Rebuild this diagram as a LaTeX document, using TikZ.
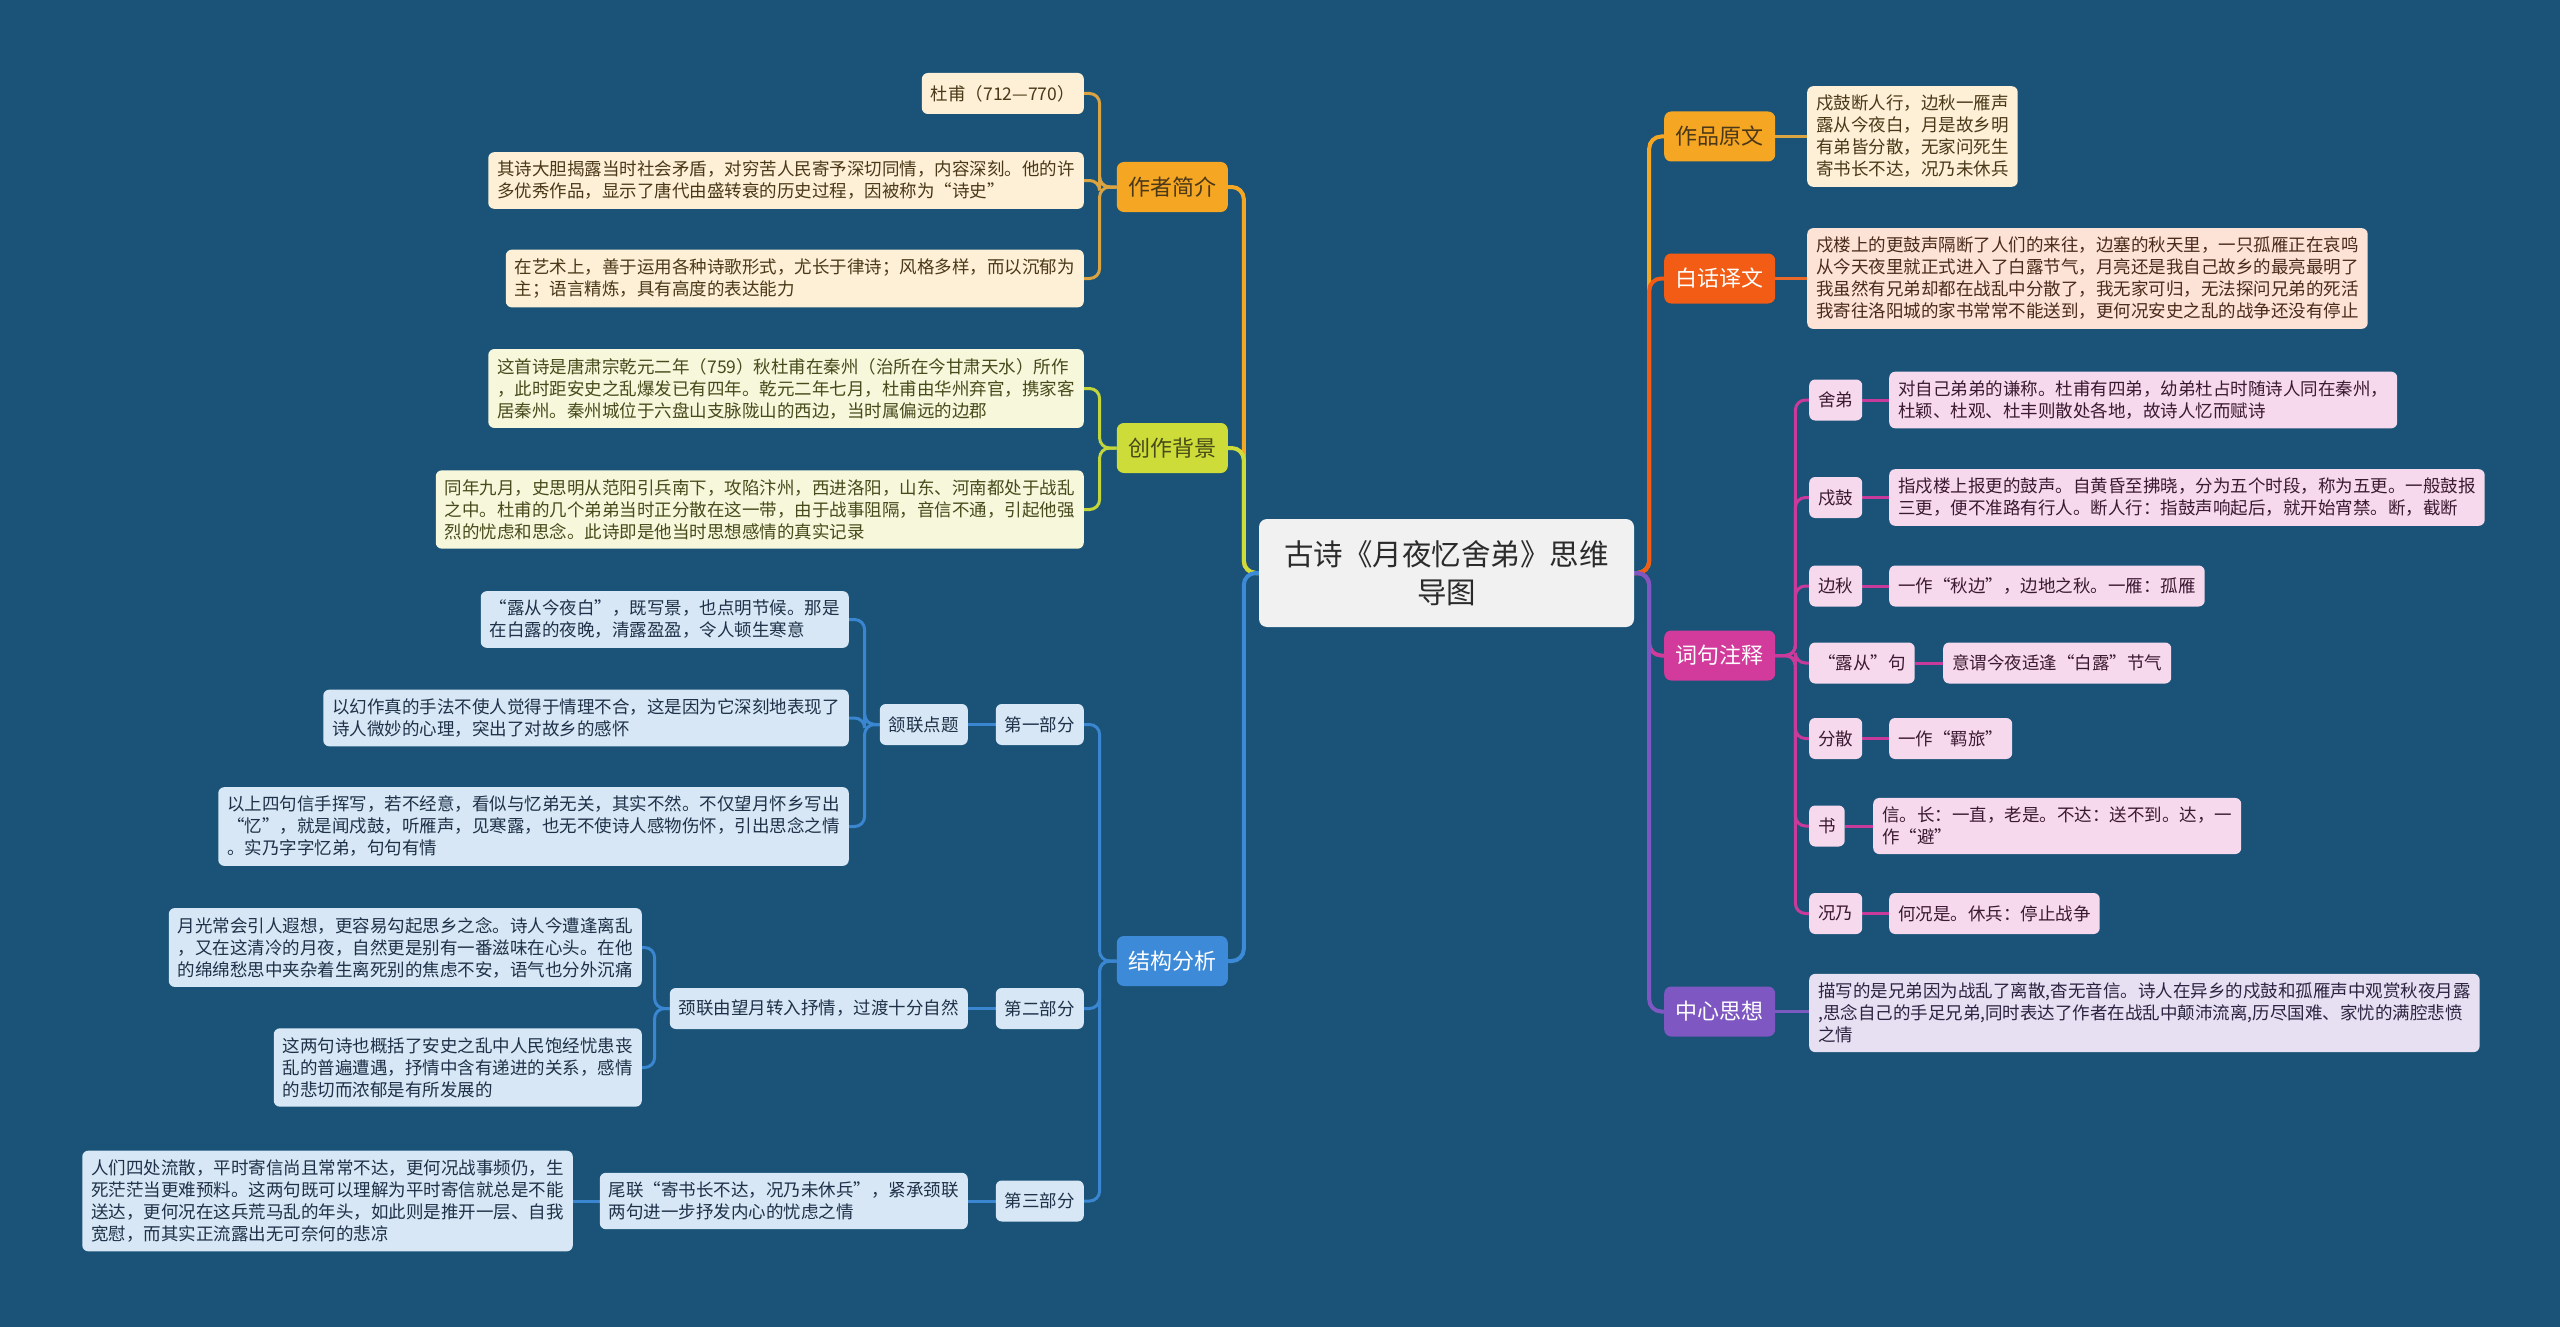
\documentclass[tikz,border=0pt]{standalone}
\usepackage{fontspec}
\setmainfont{Noto Sans CJK SC}
\pgfdeclarelayer{bg}
\pgfsetlayers{bg,main}
\definecolor{bgc}{HTML}{1A5377}
\definecolor{oranB}{HTML}{F5A623}
\definecolor{oranL}{HTML}{D9A441}
\definecolor{oranF}{HTML}{FDF0D6}
\definecolor{oranT}{HTML}{4A3818}
\definecolor{greenB}{HTML}{CDDC39}
\definecolor{greenL}{HTML}{C2D63C}
\definecolor{greenF}{HTML}{F7F7DC}
\definecolor{greenT}{HTML}{474A1A}
\definecolor{blueB}{HTML}{3C8AD8}
\definecolor{blueL}{HTML}{3A86D0}
\definecolor{blueF}{HTML}{D7E7F5}
\definecolor{blueT}{HTML}{1E3148}
\definecolor{redB}{HTML}{F25C14}
\definecolor{redL}{HTML}{E8692A}
\definecolor{redF}{HTML}{FDE3D6}
\definecolor{redT}{HTML}{4A2A1A}
\definecolor{pinkB}{HTML}{D23A9C}
\definecolor{pinkL}{HTML}{C83B9B}
\definecolor{pinkF}{HTML}{F6D9EC}
\definecolor{pinkT}{HTML}{3A1A30}
\definecolor{purpB}{HTML}{7E57C2}
\definecolor{purpL}{HTML}{7B5BC0}
\definecolor{purpF}{HTML}{E7E0F3}
\definecolor{purpT}{HTML}{2A2440}
\definecolor{ctrF}{HTML}{F1F1F1}
\definecolor{ctrT}{HTML}{2B2B2B}
\tikzset{
  leaf/.style={rounded corners=6pt, inner xsep=9pt, inner ysep=9pt, align=left,
    font=\fontsize{17.5}{22}\selectfont, minimum height=41pt},
  mainb/.style={rounded corners=7pt, minimum width=111pt, minimum height=50pt,
    inner sep=2pt, font=\fontsize{22}{26}\selectfont},
  link/.style={line width=3pt, rounded corners=10pt},
  trunk/.style={line width=4pt, rounded corners=12pt}
}
\begin{document}
\begin{tikzpicture}[x=1pt,y=-1pt]
\begin{pgfonlayer}{bg}
\fill[bgc] (0,0) rectangle (2560,1327);
\end{pgfonlayer}
\useasboundingbox (0,0) rectangle (2560,1327);

% centre
\node[rounded corners=8pt, fill=ctrF, text=ctrT, minimum width=375pt, minimum height=108pt,
  align=center, font=\fontsize{29.5}{38}\selectfont] (ctr) at (1446.5,573) {古诗《月夜忆舍弟》思维\\导图};

% main branches
\node[mainb, fill=oranB, text=oranT, anchor=east] (za) at (1228,187) {作者简介};
\node[mainb, fill=greenB, text=greenT, anchor=east] (zb) at (1228,448) {创作背景};
\node[mainb, fill=blueB, text=white, anchor=east] (zc) at (1228,961) {结构分析};
\node[mainb, fill=oranB, text=oranT, anchor=west] (zd) at (1664,136.5) {作品原文};
\node[mainb, fill=redB, text=white, anchor=west] (ze) at (1664,278.5) {白话译文};
\node[mainb, fill=pinkB, text=white, anchor=west] (zf) at (1664,655.5) {词句注释};
\node[mainb, fill=purpB, text=white, anchor=west] (zg) at (1664,1011.5) {中心思想};

% 作者简介
\node[leaf, fill=oranF, text=oranT, anchor=east] (a1) at (1084,93.5) {杜甫（712—770）};
\node[leaf, fill=oranF, text=oranT, anchor=east] (a2) at (1084,180.5) {其诗大胆揭露当时社会矛盾，对穷苦人民寄予深切同情，内容深刻。他的许\\多优秀作品，显示了唐代由盛转衰的历史过程，因被称为“诗史”};
\node[leaf, fill=oranF, text=oranT, anchor=east] (a3) at (1084,278.5) {在艺术上，善于运用各种诗歌形式，尤长于律诗；风格多样，而以沉郁为\\主；语言精炼，具有高度的表达能力};

% 创作背景
\node[leaf, fill=greenF, text=greenT, anchor=east] (b1) at (1084,388.5) {这首诗是唐肃宗乾元二年（759）秋杜甫在秦州（治所在今甘肃天水）所作\\，此时距安史之乱爆发已有四年。乾元二年七月，杜甫由华州弃官，携家客\\居秦州。秦州城位于六盘山支脉陇山的西边，当时属偏远的边郡};
\node[leaf, fill=greenF, text=greenT, anchor=east] (b2) at (1084,509.5) {同年九月，史思明从范阳引兵南下，攻陷汴州，西进洛阳，山东、河南都处于战乱\\之中。杜甫的几个弟弟当时正分散在这一带，由于战事阻隔，音信不通，引起他强\\烈的忧虑和思念。此诗即是他当时思想感情的真实记录};

% 结构分析
\node[leaf, fill=blueF, text=blueT, anchor=east] (c1) at (1084,724.5) {第一部分};
\node[leaf, fill=blueF, text=blueT, anchor=east] (c11) at (968,724.5) {颔联点题};
\node[leaf, fill=blueF, text=blueT, anchor=east] (c111) at (849,619.5) {“露从今夜白”，既写景，也点明节候。那是\\在白露的夜晚，清露盈盈，令人顿生寒意};
\node[leaf, fill=blueF, text=blueT, anchor=east] (c112) at (849,718) {以幻作真的手法不使人觉得于情理不合，这是因为它深刻地表现了\\诗人微妙的心理，突出了对故乡的感怀};
\node[leaf, fill=blueF, text=blueT, anchor=east] (c113) at (849,826.5) {以上四句信手挥写，若不经意，看似与忆弟无关，其实不然。不仅望月怀乡写出\\“忆”，就是闻戍鼓，听雁声，见寒露，也无不使诗人感物伤怀，引出思念之情\\。实乃字字忆弟，句句有情};
\node[leaf, fill=blueF, text=blueT, anchor=east] (c2) at (1084,1008.5) {第二部分};
\node[leaf, fill=blueF, text=blueT, anchor=east] (c21) at (968,1008.5) {颈联由望月转入抒情，过渡十分自然};
\node[leaf, fill=blueF, text=blueT, anchor=east] (c211) at (642,947.5) {月光常会引人遐想，更容易勾起思乡之念。诗人今遭逢离乱\\，又在这清冷的月夜，自然更是别有一番滋味在心头。在他\\的绵绵愁思中夹杂着生离死别的焦虑不安，语气也分外沉痛};
\node[leaf, fill=blueF, text=blueT, anchor=east] (c212) at (642,1067.5) {这两句诗也概括了安史之乱中人民饱经忧患丧\\乱的普遍遭遇，抒情中含有递进的关系，感情\\的悲切而浓郁是有所发展的};
\node[leaf, fill=blueF, text=blueT, anchor=east] (c3) at (1084,1201) {第三部分};
\node[leaf, fill=blueF, text=blueT, anchor=east] (c31) at (968,1201) {尾联“寄书长不达，况乃未休兵”，紧承颈联\\两句进一步抒发内心的忧虑之情};
\node[leaf, fill=blueF, text=blueT, anchor=east] (c311) at (573,1201) {人们四处流散，平时寄信尚且常常不达，更何况战事频仍，生\\死茫茫当更难预料。这两句既可以理解为平时寄信就总是不能\\送达，更何况在这兵荒马乱的年头，如此则是推开一层、自我\\宽慰，而其实正流露出无可奈何的悲凉};

% 作品原文, 白话译文
\node[leaf, fill=oranF, text=oranT, anchor=west] (d1) at (1807,136.5) {戍鼓断人行，边秋一雁声\\露从今夜白，月是故乡明\\有弟皆分散，无家问死生\\寄书长不达，况乃未休兵};
\node[leaf, fill=redF, text=redT, anchor=west] (e1) at (1807,278.5) {戍楼上的更鼓声隔断了人们的来往，边塞的秋天里，一只孤雁正在哀鸣\\从今天夜里就正式进入了白露节气，月亮还是我自己故乡的最亮最明了\\我虽然有兄弟却都在战乱中分散了，我无家可归，无法探问兄弟的死活\\我寄往洛阳城的家书常常不能送到，更何况安史之乱的战争还没有停止};

% 词句注释
\node[leaf, fill=pinkF, text=pinkT, anchor=west] (f1) at (1809,400) {舍弟};
\node[leaf, fill=pinkF, text=pinkT, anchor=west] (f1a) at (1889,400) {对自己弟弟的谦称。杜甫有四弟，幼弟杜占时随诗人同在秦州，\\杜颖、杜观、杜丰则散处各地，故诗人忆而赋诗};
\node[leaf, fill=pinkF, text=pinkT, anchor=west] (f2) at (1809,497.5) {戍鼓};
\node[leaf, fill=pinkF, text=pinkT, anchor=west] (f2a) at (1889,497.5) {指戍楼上报更的鼓声。自黄昏至拂晓，分为五个时段，称为五更。一般鼓报\\三更，便不准路有行人。断人行：指鼓声响起后，就开始宵禁。断，截断};
\node[leaf, fill=pinkF, text=pinkT, anchor=west] (f3) at (1809,586) {边秋};
\node[leaf, fill=pinkF, text=pinkT, anchor=west] (f3a) at (1889,586) {一作“秋边”，边地之秋。一雁：孤雁};
\node[leaf, fill=pinkF, text=pinkT, anchor=west] (f4) at (1809,663) {“露从”句};
\node[leaf, fill=pinkF, text=pinkT, anchor=west] (f4a) at (1943,663) {意谓今夜适逢“白露”节气};
\node[leaf, fill=pinkF, text=pinkT, anchor=west] (f5) at (1809,738.5) {分散};
\node[leaf, fill=pinkF, text=pinkT, anchor=west] (f5a) at (1889,738.5) {一作“羁旅”};
\node[leaf, fill=pinkF, text=pinkT, anchor=west] (f6) at (1809,826) {书};
\node[leaf, fill=pinkF, text=pinkT, anchor=west] (f6a) at (1873,826) {信。长：一直，老是。不达：送不到。达，一\\作“避”};
\node[leaf, fill=pinkF, text=pinkT, anchor=west] (f7) at (1809,913.5) {况乃};
\node[leaf, fill=pinkF, text=pinkT, anchor=west] (f7a) at (1889,913.5) {何况是。休兵：停止战争};

% 中心思想
\node[leaf, fill=purpF, text=purpT, anchor=west] (g1) at (1809,1013) {描写的是兄弟因为战乱了离散,杳无音信。诗人在异乡的戍鼓和孤雁声中观赏秋夜月露\\,思念自己的手足兄弟,同时表达了作者在战乱中颠沛流离,历尽国难、家忧的满腔悲愤\\之情};

\begin{pgfonlayer}{bg}
% centre to main branches
\draw[trunk, oranB] (ctr.west) -- ++(-15,0) |- (za.east);
\draw[trunk, greenB] (ctr.west) -- ++(-15,0) |- (zb.east);
\draw[trunk, blueB] (ctr.west) -- ++(-15,0) |- (zc.east);
\draw[trunk, oranB] (ctr.east) -- ++(15,0) |- (zd.west);
\draw[trunk, redB] (ctr.east) -- ++(15,0) |- (ze.west);
\draw[trunk, pinkB] (ctr.east) -- ++(15,0) |- (zf.west);
\draw[trunk, purpB] (ctr.east) -- ++(15,0) |- (zg.west);
% sub branches
\foreach \n in {a1,a2,a3} \draw[link, oranL] (za.west) -- ++(-17,0) |- (\n.east);
\foreach \n in {b1,b2} \draw[link, greenL] (zb.west) -- ++(-17,0) |- (\n.east);
\foreach \n in {c1,c2,c3} \draw[link, blueL] (zc.west) -- ++(-17,0) |- (\n.east);
\draw[link, blueL] (c1.west) -- (c11.east);
\draw[link, blueL] (c2.west) -- (c21.east);
\draw[link, blueL] (c3.west) -- (c31.east);
\foreach \n in {c111,c112,c113} \draw[link, blueL] (c11.west) -- ++(-15,0) |- (\n.east);
\foreach \n in {c211,c212} \draw[link, blueL] (c21.west) -- ++(-15,0) |- (\n.east);
\draw[link, blueL] (c31.west) -- (c311.east);
\draw[link, oranL] (zd.east) -- (d1.west);
\draw[link, redL] (ze.east) -- (e1.west);
\foreach \n in {f1,f2,f3,f4,f5,f6,f7} \draw[link, pinkL] (zf.east) -- ++(20,0) |- (\n.west);
\foreach \n/\m in {f1/f1a,f2/f2a,f3/f3a,f4/f4a,f5/f5a,f6/f6a,f7/f7a} \draw[link, pinkL] (\n.east) -- (\m.west);
\draw[link, purpL] (zg.east) -- (zg.east -| g1.west);
\end{pgfonlayer}
\end{tikzpicture}
\end{document}
